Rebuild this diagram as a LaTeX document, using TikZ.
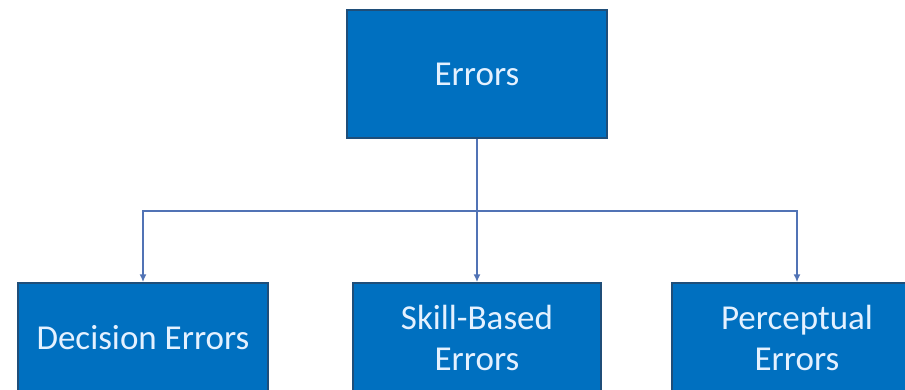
\documentclass[tikz,border=0pt]{standalone}
\usepackage{fontspec}
\setmainfont{Carlito}
\usetikzlibrary{arrows.meta}
\definecolor{boxfill}{HTML}{0070C0}
\definecolor{boxline}{HTML}{1F4E79}
\definecolor{linkcol}{HTML}{5173B5}
\definecolor{txtcol}{HTML}{E4F1FF}
\tikzset{
  errbox/.style={draw=boxline, line width=1.5pt, fill=boxfill, text=txtcol,
    align=center, inner sep=0pt, font=\fontsize{35}{41}\selectfont},
  link/.style={draw=linkcol, line width=1.6pt},
  arr/.style={link, -{Latex[length=8pt,width=7pt]}}
}
\begin{document}
\begin{tikzpicture}[x=1pt,y=-1pt]
\useasboundingbox (0,0) rectangle (905,390);
\clip (0,0) rectangle (905,390);
\node[errbox, minimum width=260pt, minimum height=128pt] (top) at (477,74) {Errors};
\node[errbox, minimum width=250pt, minimum height=110pt] (dec) at (143,338) {Decision Errors};
\node[errbox, minimum width=248pt, minimum height=110pt] (skill) at (477,338) {Skill-Based\\Errors};
\node[errbox, minimum width=250pt, minimum height=110pt] (perc) at (797,338) {Perceptual\\Errors};
\coordinate (j) at (477,211);
\draw[link] (top.south) -- (j);
\draw[arr] (j) -| (dec.north);
\draw[arr] (j) -- (skill.north);
\draw[arr] (j) -| (perc.north);
\end{tikzpicture}
\end{document}
